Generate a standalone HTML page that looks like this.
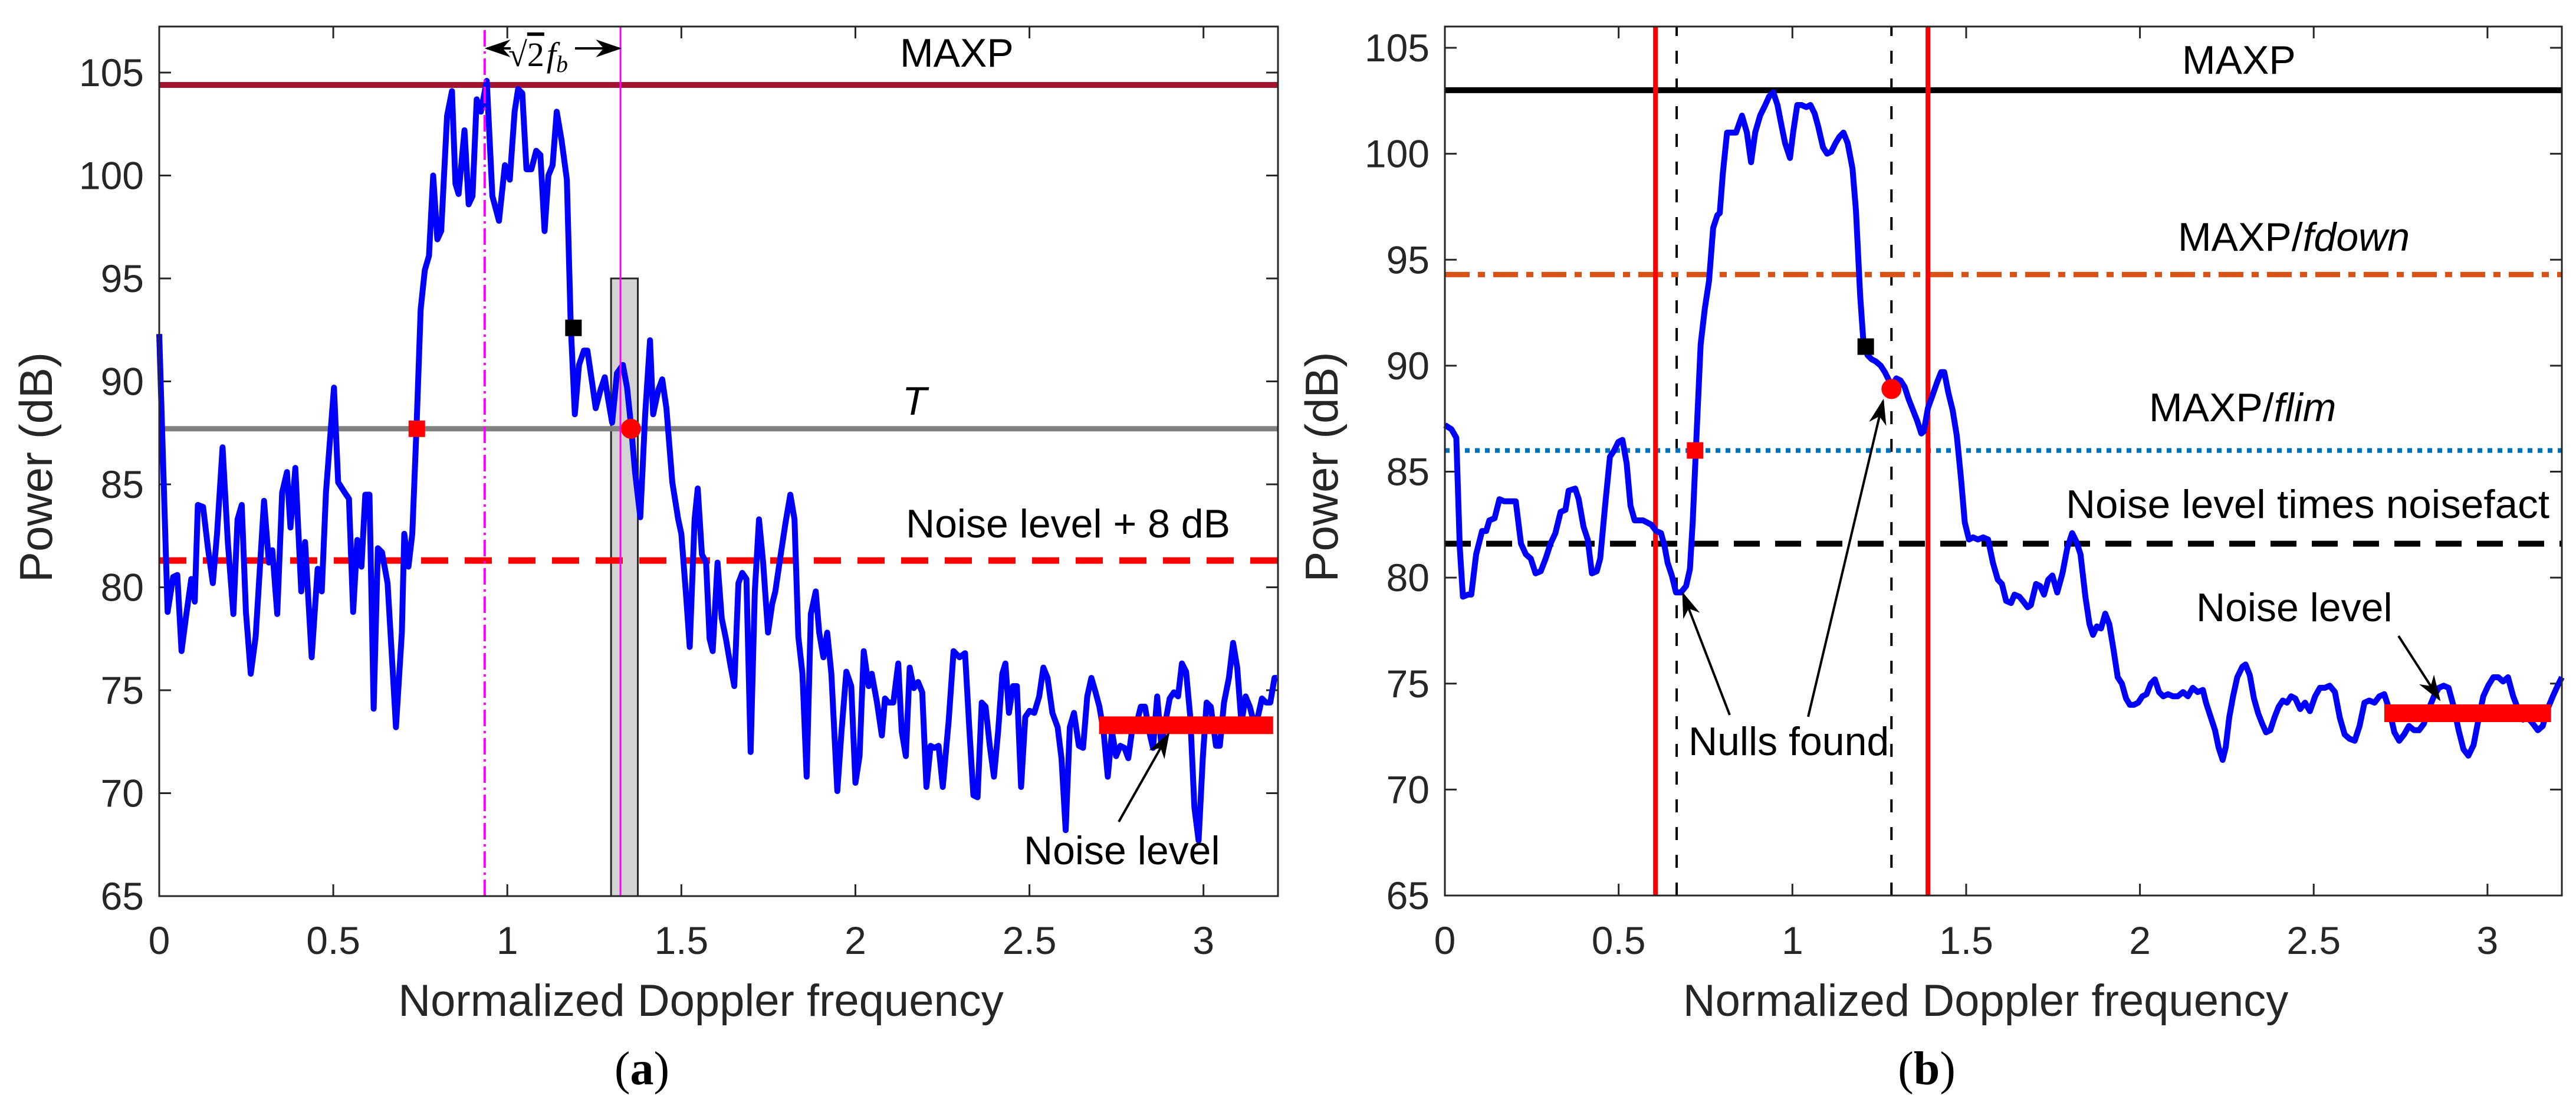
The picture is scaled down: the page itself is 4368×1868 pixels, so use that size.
<!DOCTYPE html>
<html><head><meta charset="utf-8">
<style>
html,body{margin:0;padding:0;background:#fff;}
svg{display:block;}
text{font-family:"Liberation Sans",sans-serif;fill:#262626;}
</style></head>
<body>
<svg id="fig" width="4368" height="1868" viewBox="0 0 4368 1868" xmlns="http://www.w3.org/2000/svg">
<defs>
<marker id="ah" viewBox="0 0 10 10" refX="9" refY="5" markerWidth="44" markerHeight="30" preserveAspectRatio="none" markerUnits="userSpaceOnUse" orient="auto">
<path d="M0,0 L10,5 L0,10 L3,5 z" fill="#000"/></marker>
</defs>
<g id="pa"></g>
<g id="pb"></g>
</svg>
<script>
// ---------- Panel (a) data ----------
const aX = [0,.024,.040,.052,.064,.078,.092,.102,.111,.126,.140,.154,.166,.182,.197,.213,.225,.237,.249,.263,.277,.301,.315,.325,.339,.353,.367,.377,.391,.408,.419,.438,.455,.467,.479,.502,.514,.533,.545,.557,.569,.581,.592,.604,.616,.628,.640,.656,.671,.680,.697,.704,.716,.727,.739,.751,.763,.775,.787,.799,.810,.827,.841,.851,.860,.877,.889,.900,.912,.924,.941,.957,.976,.993,1.007,1.021,1.031,1.043,1.055,1.069,1.083,1.095,1.107,1.118,1.130,1.142,1.156,1.171,1.182,1.194,1.206,1.220,1.230,1.244,1.254,1.268,1.280,1.289,1.301,1.315,1.332,1.344,1.355,1.367,1.382,1.396,1.410,1.419,1.434,1.445,1.457,1.474,1.491,1.500,1.514,1.524,1.538,1.547,1.559,1.571,1.581,1.590,1.604,1.616,1.628,1.640,1.652,1.664,1.675,1.687,1.699,1.711,1.723,1.735,1.749,1.761,1.770,1.782,1.799,1.813,1.825,1.836,1.848,1.860,1.872,1.886,1.896,1.908,1.919,1.931,1.948,1.960,1.974,1.988,2.000,2.012,2.024,2.038,2.047,2.062,2.076,2.085,2.095,2.109,2.123,2.133,2.145,2.156,2.168,2.180,2.192,2.204,2.216,2.227,2.239,2.251,2.268,2.282,2.299,2.315,2.327,2.339,2.351,2.363,2.374,2.386,2.398,2.410,2.422,2.431,2.441,2.453,2.464,2.476,2.488,2.500,2.514,2.528,2.540,2.552,2.566,2.581,2.592,2.604,2.616,2.628,2.642,2.654,2.666,2.678,2.690,2.701,2.713,2.725,2.737,2.749,2.761,2.773,2.784,2.796,2.808,2.820,2.832,2.844,2.855,2.867,2.879,2.891,2.903,2.915,2.927,2.938,2.950,2.962,2.974,2.986,2.998,3.009,3.021,3.036,3.047,3.059,3.073,3.085,3.097,3.109,3.121,3.133,3.145,3.156,3.168,3.180,3.192,3.204,3.211];
const aY = [92.3,78.8,80.5,80.6,76.9,78.7,80.4,79.3,84.0,83.9,81.9,80.2,82.6,86.8,82.2,78.7,83.3,84.0,78.8,75.8,77.6,84.2,81.2,81.8,78.7,84.6,85.6,82.9,85.8,79.8,82.2,76.6,80.9,79.8,84.6,89.7,85.1,84.6,84.3,78.8,82.3,81.0,84.5,84.5,74.1,81.9,81.7,80.2,75.9,73.2,77.8,82.6,81.0,82.6,87.7,93.5,95.4,96.1,100.0,96.9,97.3,102.9,104.1,99.6,99.1,102.2,98.6,99.0,103.7,103.1,104.6,99.0,97.8,100.5,99.8,103.1,104.2,104.0,100.3,100.3,101.2,101.0,97.3,100.0,100.5,103.1,101.7,99.8,92.8,88.4,90.8,91.5,91.5,89.9,88.7,89.6,90.2,89.2,88.0,90.4,90.8,89.7,87.9,85.6,83.4,88.4,92.0,88.4,89.6,90.1,88.7,85.1,83.3,82.6,79.5,77.1,83.3,84.8,81.6,81.2,77.5,76.9,81.2,78.5,77.5,76.3,75.2,80.2,80.7,80.4,72.0,79.8,83.3,81.2,77.8,79.2,79.8,81.2,83.1,84.5,83.3,77.6,75.8,70.8,78.7,79.8,77.8,76.6,77.8,75.8,70.1,73.0,75.9,75.2,70.5,71.8,76.9,75.2,75.8,74.4,72.8,74.6,74.4,74.4,76.3,73.0,71.8,76.1,75.1,75.4,74.9,70.3,72.3,72.2,72.3,70.3,73.5,76.9,76.6,76.8,73.2,69.9,69.8,74.4,74.2,72.3,70.8,73.0,75.8,76.3,73.9,75.2,75.2,70.3,73.7,74.0,73.9,74.7,76.1,75.6,73.9,73.2,71.7,68.2,73.2,73.9,72.3,72.2,74.7,75.6,74.9,74.2,73.0,70.8,73.0,71.8,72.3,72.2,71.7,73.2,73.4,74.2,74.2,73.0,72.2,74.7,72.3,73.5,74.6,74.9,74.7,76.3,75.9,73.7,69.3,67.7,71.7,74.4,74.2,72.3,72.3,74.4,75.6,77.3,76.1,73.4,74.7,74.2,73.4,73.7,74.6,74.4,74.4,75.6,75.6];
const aMaxp = 104.4, aT = 87.7, aNoise8 = 81.3, aNoise = 73.3;
const aNoiseRange = [2.70, 3.20];
const aFb = 0.935, aFb2 = 1.325;
const aBox = [1.298, 1.375, 95];
const aRedSq = [0.74, 87.7], aBlkSq = [1.19, 92.6], aRedCirc = [1.355, 87.7];

// ---------- Panel (b) data ----------
const bX = [0,.019,.033,.043,.052,.067,.076,.090,.107,.119,.128,.143,.157,.171,.185,.204,.219,.233,.247,.261,.276,.290,.304,.318,.333,.347,.356,.375,.385,.399,.411,.423,.437,.447,.461,.475,.487,.499,.511,.523,.534,.546,.558,.570,.582,.594,.608,.622,.632,.641,.653,.665,.679,.694,.705,.713,.724,.736,.748,.760,.772,.784,.791,.800,.812,.824,.838,.855,.869,.881,.893,.907,.922,.933,.945,.957,.969,.979,.993,1.002,1.014,1.026,1.040,1.052,1.064,1.074,1.088,1.100,1.112,1.124,1.135,1.147,1.159,1.173,1.183,1.195,1.204,1.216,1.228,1.240,1.254,1.266,1.278,1.285,1.299,1.311,1.323,1.335,1.347,1.359,1.371,1.378,1.390,1.401,1.416,1.428,1.437,1.449,1.461,1.473,1.485,1.496,1.508,1.520,1.534,1.549,1.563,1.577,1.591,1.603,1.615,1.629,1.639,1.653,1.663,1.677,1.686,1.701,1.713,1.724,1.736,1.748,1.762,1.777,1.791,1.805,1.817,1.829,1.843,1.855,1.865,1.876,1.888,1.900,1.912,1.924,1.936,1.948,1.960,1.971,1.983,1.995,2.007,2.019,2.031,2.043,2.055,2.067,2.081,2.095,2.109,2.124,2.138,2.152,2.166,2.181,2.190,2.204,2.216,2.226,2.238,2.247,2.257,2.268,2.280,2.295,2.304,2.316,2.328,2.340,2.352,2.363,2.375,2.387,2.399,2.411,2.423,2.435,2.447,2.461,2.475,2.489,2.504,2.518,2.532,2.546,2.561,2.575,2.589,2.603,2.618,2.632,2.646,2.660,2.675,2.689,2.703,2.717,2.732,2.746,2.760,2.774,2.789,2.803,2.817,2.831,2.846,2.860,2.874,2.888,2.903,2.917,2.931,2.945,2.960,2.974,2.988,3.002,3.017,3.031,3.045,3.059,3.074,3.088,3.102,3.116,3.131,3.145,3.159,3.173,3.188,3.202,3.214];
const bY = [87.2,87.0,86.6,81.4,79.1,79.2,79.2,81.1,82.2,82.2,82.7,82.8,83.7,83.6,83.6,83.6,81.6,81.1,80.9,80.2,80.3,80.9,81.6,82.1,83.1,83.2,84.1,84.2,83.7,82.4,81.8,80.2,80.3,80.9,83.4,85.7,86.0,86.4,86.5,85.4,83.4,82.7,82.7,82.7,82.6,82.5,82.2,82.1,81.5,80.7,80.1,79.3,79.3,79.6,80.4,82.6,86.7,91.0,92.7,94.0,96.5,97.1,97.2,99.1,101.0,101.0,101.0,101.8,101.0,99.6,101.0,101.8,102.3,102.7,102.9,102.3,101.3,100.5,99.8,101.0,102.3,102.3,102.2,102.3,101.9,101.3,100.3,100.0,100.1,100.5,100.8,101.0,100.5,99.3,97.3,93.3,91.2,90.5,90.3,90.2,90.0,89.7,89.3,89.0,89.4,89.3,89.0,88.4,87.9,87.4,86.8,86.9,88.0,88.5,89.2,89.7,89.7,88.7,87.9,86.7,84.7,82.6,81.8,81.9,81.8,81.9,81.8,80.7,79.9,79.7,78.9,78.8,79.2,79.1,78.9,78.6,78.7,79.7,79.6,79.2,79.9,80.1,79.3,80.2,81.4,82.1,81.7,81.1,79.1,77.8,77.3,77.7,77.6,78.3,77.8,76.6,75.3,75.0,74.3,74.0,74.0,74.1,74.4,74.5,75.0,75.2,74.6,74.4,74.5,74.4,74.4,74.6,74.4,74.8,74.6,74.7,74.1,73.4,72.8,72.0,71.4,72.0,73.4,74.4,75.3,75.8,75.9,75.4,74.3,73.6,73.1,72.7,72.8,73.4,73.9,74.2,74.1,74.4,74.3,73.8,74.1,73.7,74.4,74.8,74.8,74.9,74.6,73.4,72.6,72.4,72.3,73.0,74.1,74.2,74.1,74.4,74.5,73.8,72.7,72.3,72.6,73.0,72.8,72.8,73.1,73.8,74.4,74.8,74.9,74.8,73.9,72.8,71.9,71.6,72.1,73.3,74.4,74.9,75.3,75.3,75.1,75.3,74.4,73.8,73.3,73.4,73.1,72.8,73.0,73.8,74.4,74.9,75.3];
const bMaxp = 103.0, bFdown = 94.3, bFlim = 86.0, bNoiseFact = 81.6, bNoise = 73.6;
const bNoiseRange = [2.703, 3.183];
const bRedV = [0.606, 1.390], bNullV = [0.667, 1.285];
const bRedSq = [0.72, 86.0], bBlkSq = [1.211, 90.9], bRedCirc = [1.285, 88.9];

const xTicks = [0, 0.5, 1, 1.5, 2, 2.5, 3];
const xTickLabels = ['0','0.5','1','1.5','2','2.5','3'];
const yTicks = [65, 70, 75, 80, 85, 90, 95, 100, 105];

const NS = 'http://www.w3.org/2000/svg';
function mk(parent, tag, attrs, txt) {
  const e = document.createElementNS(NS, tag);
  for (const k in attrs) e.setAttribute(k, attrs[k]);
  if (txt !== undefined) e.textContent = txt;
  parent.appendChild(e);
  return e;
}

function axes(g, L, R, T, B, xmax, ymin, ymax, label) {
  const sx = v => L + v / xmax * (R - L);
  const sy = v => B - (v - ymin) / (ymax - ymin) * (B - T);
  xTicks.forEach((t, i) => {
    const x = sx(t);
    const tk = mk(g, 'path', {d: `M${x},${B}v-20M${x},${T}v20`, stroke: '#262626', 'stroke-width': 3, fill: 'none'});
    
    
    const tl = mk(g, 'text', {x: x, y: 1617, 'font-size': 66, 'text-anchor': 'middle'}, xTickLabels[i]);
    
    
  });
  yTicks.forEach(t => {
    const y = sy(t);
    const tk = mk(g, 'path', {d: `M${L},${y}h20M${R},${y}h-20`, stroke: '#262626', 'stroke-width': 3, fill: 'none'});
    
    
    const tl = mk(g, 'text', {x: L - 26, y: y + 23, 'font-size': 66, 'text-anchor': 'end'}, String(t));
    
    
  });
  const xt = mk(g, 'text', {x: (L + R) / 2 - 30, y: 1722, 'font-size': 76, 'text-anchor': 'middle'}, 'Normalized Doppler frequency');
  
  
  const yt = mk(g, 'text', {x: 0, y: 0, 'font-size': 78, 'text-anchor': 'middle', transform: `translate(${L - 182},${(T + B) / 2 + 10}) rotate(-90)`}, 'Power (dB)');
  
  
  const cap = mk(g, 'text', {x: (L + R) / 2 - 130, y: 1838, 'font-size': 80, 'text-anchor': 'middle', style: 'font-family:"Liberation Serif",serif;fill:#000'});
  mk(cap, 'tspan', {}, '(');
  mk(cap, 'tspan', {'font-weight': 'bold'}, label);
  mk(cap, 'tspan', {}, ')');
  
  
  return {sx, sy};
}
function frame(g, L, R, T, B) {
  const f = mk(g, 'rect', {x: L, y: T, width: R - L, height: B - T, fill: 'none', stroke: '#262626', 'stroke-width': 3});
  
  
}
function hline(g, sx, sy, xmax, v, attrs, name) {
  const l = mk(g, 'line', Object.assign({x1: sx(0), x2: sx(xmax), y1: sy(v), y2: sy(v)}, attrs));
  
  
}
function vline(g, sx, sy, v, y0, y1, attrs, name) {
  const l = mk(g, 'line', Object.assign({x1: sx(v), x2: sx(v), y1: sy(y0), y2: sy(y1)}, attrs));
  
  
}
function series(g, sx, sy, xs, ys) {
  const d = xs.map((x, i) => (i ? 'L' : 'M') + sx(x).toFixed(1) + ',' + sy(ys[i]).toFixed(1)).join('');
  const p = mk(g, 'path', {d: d, fill: 'none', stroke: '#0000ff', 'stroke-width': 10, 'stroke-linejoin': 'round'});
  
  
}
function sq(g, sx, sy, pt, col, name) {
  const r = mk(g, 'rect', {x: sx(pt[0]) - 14, y: sy(pt[1]) - 14, width: 28, height: 28, fill: col});
  
  
}
function circ(g, sx, sy, pt, name) {
  const c = mk(g, 'circle', {cx: sx(pt[0]), cy: sy(pt[1]), r: 17, fill: '#ff0000'});
  
  
}
function label(g, x, y, txt, name, extra) {
  const t = mk(g, 'text', Object.assign({x: x, y: y, 'font-size': 68, style: 'fill:#000'}, extra || {}));
  if (Array.isArray(txt)) txt.forEach(s => mk(t, 'tspan', s[1] ? {'font-style': 'italic'} : {}, s[0]));
  else t.textContent = txt;
  
  
}
function arrow(g, x1, y1, x2, y2, name) {
  const a = mk(g, 'line', {x1, y1, x2, y2, stroke: '#000', 'stroke-width': 4, 'marker-end': 'url(#ah)'});
  
  
}

// ---------- Draw panel (a) ----------
(function () {
  const g = document.getElementById('pa');
  const L = 270, R = 2167, T = 45, B = 1519;
  const ymax = 65 + (B - T) / ((B - 123) / 40);
  const {sx, sy} = axes(g, L, R, T, B, 3.214, 65, ymax, 'a');
  const bx = mk(g, 'rect', {x: sx(aBox[0]), y: sy(aBox[2]), width: sx(aBox[1]) - sx(aBox[0]), height: sy(65) - sy(aBox[2]), fill: '#d3d3d3', stroke: '#262626', 'stroke-width': 3});
  
  
  hline(g, sx, sy, 3.214, aNoise8, {stroke: '#ff0000', 'stroke-width': 11, 'stroke-dasharray': '46 28'}, 'noise-plus-8db-line');
  hline(g, sx, sy, 3.214, aT, {stroke: '#808080', 'stroke-width': 9}, 'threshold-t-line');
  hline(g, sx, sy, 3.214, aMaxp, {stroke: '#a2142f', 'stroke-width': 10}, 'maxp-line');
  series(g, sx, sy, aX, aY);
  vline(g, sx, sy, aFb, 65, ymax, {stroke: '#ff00ff', 'stroke-width': 4, 'stroke-dasharray': '28 8 4 8'}, 'fb-dashdot-line');
  vline(g, sx, sy, aFb2, 65, ymax, {stroke: '#ff00ff', 'stroke-width': 3}, 'sqrt2-fb-line');
  const y = sy(aNoise);
  const nb = mk(g, 'line', {x1: sx(aNoiseRange[0]), x2: sx(aNoiseRange[1]), y1: y, y2: y, stroke: '#ff0000', 'stroke-width': 30});
  
  
  sq(g, sx, sy, aRedSq, '#ff0000', 'red-square-marker');
  sq(g, sx, sy, aBlkSq, '#000000', 'black-square-marker');
  circ(g, sx, sy, aRedCirc, 'red-circle-marker');
  label(g, 1526, 113, 'MAXP', 'maxp-label');
  label(g, 1530, 703, [['T', true]], 'threshold-label');
  label(g, 1536, 911, 'Noise level + 8 dB', 'noise-plus-8db-label');
  label(g, 1736, 1465, 'Noise level', 'noise-level-label');
  arrow(g, 1897, 1393, 1981, 1245, 'noise-level-arrow');
  arrow(g, 866, 82, 826, 82, 'fb-arrow-left');
  arrow(g, 975, 82, 1050, 82, 'fb-arrow-right');
  const st = mk(g, 'text', {x: 862, y: 112, 'font-size': 58, style: 'font-family:"Liberation Serif",serif;fill:#000'});
  mk(st, 'tspan', {}, '√');
  mk(st, 'tspan', {'text-decoration': 'overline'}, '2');
  mk(st, 'tspan', {'font-style': 'italic', dx: 4}, 'f');
  mk(st, 'tspan', {'font-style': 'italic', 'font-size': 40, dy: 10}, 'b');
  
  
  frame(g, L, R, T, B);
})();

// ---------- Draw panel (b) ----------
(function () {
  const g = document.getElementById('pb');
  const L = 2450, R = 4344, T = 45, B = 1518;
  const ymax = 65 + (B - T) / ((B - 81) / 40);
  const {sx, sy} = axes(g, L, R, T, B, 3.214, 65, ymax, 'b');
  bNullV.forEach(v => vline(g, sx, sy, v, 65, ymax, {stroke: '#000', 'stroke-width': 4, 'stroke-dasharray': '22 25'}, 'null-dashed-line'));
  hline(g, sx, sy, 3.214, bNoiseFact, {stroke: '#000', 'stroke-width': 10, 'stroke-dasharray': '44 26'}, 'noise-times-noisefact-line');
  hline(g, sx, sy, 3.214, bFlim, {stroke: '#0072bd', 'stroke-width': 8, 'stroke-dasharray': '8 9'}, 'maxp-flim-line');
  hline(g, sx, sy, 3.214, bFdown, {stroke: '#d95319', 'stroke-width': 9, 'stroke-dasharray': '42 14 12 14'}, 'maxp-fdown-line');
  hline(g, sx, sy, 3.214, bMaxp, {stroke: '#000', 'stroke-width': 10}, 'maxp-line');
  bRedV.forEach(v => vline(g, sx, sy, v, 65, ymax, {stroke: '#ff0000', 'stroke-width': 8}, 'red-boundary-line'));
  series(g, sx, sy, bX, bY);
  const y = sy(bNoise);
  const nb = mk(g, 'line', {x1: sx(bNoiseRange[0]), x2: sx(bNoiseRange[1]), y1: y, y2: y, stroke: '#ff0000', 'stroke-width': 30});
  
  
  sq(g, sx, sy, bRedSq, '#ff0000', 'red-square-marker');
  sq(g, sx, sy, bBlkSq, '#000000', 'black-square-marker');
  circ(g, sx, sy, bRedCirc, 'red-circle-marker');
  label(g, 3700, 125, 'MAXP', 'maxp-label');
  label(g, 3693, 425, [['MAXP/', false], ['fdown', true]], 'maxp-fdown-label');
  label(g, 3644, 714, [['MAXP/', false], ['flim', true]], 'maxp-flim-label');
  label(g, 3503, 878, 'Noise level times noisefact', 'noise-times-noisefact-label', {textLength: 820, lengthAdjust: 'spacingAndGlyphs'});
  label(g, 3724, 1053, 'Noise level', 'noise-level-label');
  label(g, 2863, 1280, 'Nulls found', 'nulls-found-label');
  arrow(g, 2933, 1212, 2854, 1007, 'null-arrow-1');
  arrow(g, 3066, 1215, 3193, 680, 'null-arrow-2');
  arrow(g, 4067, 1078, 4136, 1185, 'noise-level-arrow');
  frame(g, L, R, T, B);
})();
</script>
</body></html>
